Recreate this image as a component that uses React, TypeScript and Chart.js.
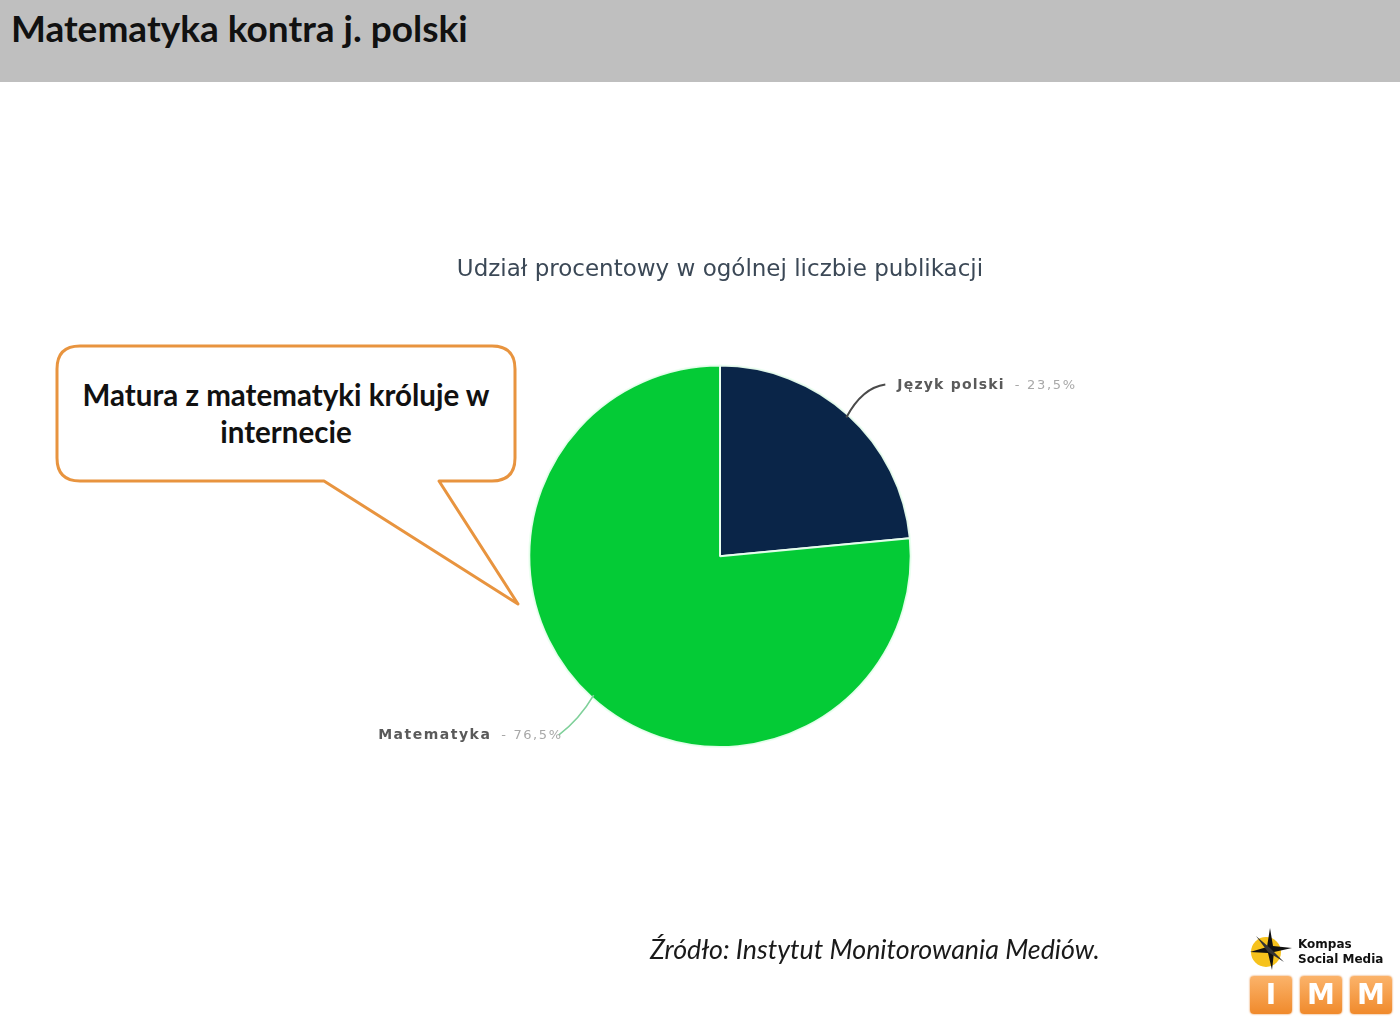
import React, { useEffect, useRef } from "react";
import { Chart, registerables } from "chart.js";

Chart.register(...registerables);

const pageTitle = "Matematyka kontra j. polski";
const chartTitle = "Udział procentowy w ogólnej liczbie publikacji";
const categories = ["Język polski", "Matematyka"];
const shares = [23.5, 76.5];
const shareLabels = ["23,5%", "76,5%"];
const sliceColors = ["#0a2548", "#04cb36"];
const leaderColors = ["#4a4a4a", "#7fd09a"];
const calloutLines = ["Matura z matematyki króluje w", "internecie"];
const sourceText = "Źródło: Instytut Monitorowania Mediów.";

const leaderPlugin = {
  id: "leaderLabels",
  afterDatasetsDraw(chart: any) {
    const ctx = chart.ctx;
    const meta = chart.getDatasetMeta(0);
    meta.data.forEach((arc: any, i: number) => {
      const p = arc.getProps(["x", "y", "startAngle", "endAngle", "outerRadius"], true);
      const mid = (p.startAngle + p.endAngle) / 2;
      const sx = p.x + Math.cos(mid) * (p.outerRadius - 3);
      const sy = p.y + Math.sin(mid) * (p.outerRadius - 3);
      const right = Math.cos(mid) >= 0;
      ctx.save();
      ctx.strokeStyle = leaderColors[i];
      ctx.lineWidth = right ? 2 : 1.6;
      ctx.beginPath();
      let ex: number, ey: number;
      if (right) {
        ex = sx + 39;
        ey = sy - 33;
        ctx.moveTo(sx, sy);
        ctx.quadraticCurveTo(sx + 16, sy - 30, ex, ey);
      } else {
        ex = sx - 35;
        ey = sy + 40;
        ctx.moveTo(sx, sy);
        ctx.quadraticCurveTo(sx - 14, sy + 24, ex, ey);
      }
      ctx.stroke();
      const nameFont = "bold 14px 'DejaVu Sans'";
      const valFont = "13px 'DejaVu Sans'";
      const valText = "- " + shareLabels[i];
      ctx.textBaseline = "middle";
      if (right) {
        const tx = ex + 12;
        const ty = ey + 1;
        ctx.font = nameFont;
        (ctx as any).letterSpacing = "1.2px";
        ctx.fillStyle = "#5a5a5a";
        ctx.textAlign = "left";
        ctx.fillText(categories[i], tx, ty);
        const w = ctx.measureText(categories[i]).width;
        ctx.font = valFont;
        (ctx as any).letterSpacing = "1.7px";
        ctx.fillStyle = "#a8a8a8";
        ctx.fillText(valText, tx + w + 10, ty);
      } else {
        const tx = ex + 4;
        const ty = ey;
        ctx.font = valFont;
        (ctx as any).letterSpacing = "1.6px";
        ctx.fillStyle = "#a8a8a8";
        ctx.textAlign = "right";
        ctx.fillText(valText, tx, ty);
        const w = ctx.measureText(valText).width;
        ctx.font = nameFont;
        (ctx as any).letterSpacing = "1.5px";
        ctx.fillStyle = "#5a5a5a";
        ctx.fillText(categories[i], tx - w - 10, ty);
      }
      ctx.restore();
    });
  },
};

function PieChart() {
  const ref = useRef<HTMLCanvasElement | null>(null);
  useEffect(() => {
    if (!ref.current) return;
    const chart = new Chart(ref.current, {
      type: "pie",
      data: {
        labels: categories,
        datasets: [
          {
            data: shares,
            backgroundColor: sliceColors,
            borderColor: "rgba(235,255,240,0.95)",
            borderWidth: 2,
          },
        ],
      },
      options: {
        responsive: false,
        animation: false,
        layout: { padding: { top: 256, bottom: 274, left: 400, right: 360 } },
        plugins: {
          legend: { display: false },
          tooltip: { enabled: false },
          title: {
            display: true,
            text: chartTitle,
            color: "#3b4856",
            font: { family: "DejaVu Sans", size: 23, weight: "normal" },
            padding: { top: 0, bottom: 81 },
          },
        },
      },
      plugins: [leaderPlugin],
    });
    return () => chart.destroy();
  }, []);
  return (
    <canvas
      ref={ref}
      width={1400}
      height={1022}
      style={{ position: "absolute", left: 0, top: 0, width: 1400, height: 1022 }}
    />
  );
}

function Callout() {
  const r = 23;
  const x0 = 57, y0 = 346, x1 = 515, y1 = 481;
  const d = `M ${x0 + r} ${y0} L ${x1 - r} ${y0} Q ${x1} ${y0} ${x1} ${y0 + r} L ${x1} ${y1 - r} Q ${x1} ${y1} ${x1 - r} ${y1} L 439 ${y1} L 518 604 L 324 ${y1} L ${x0 + r} ${y1} Q ${x0} ${y1} ${x0} ${y1 - r} L ${x0} ${y0 + r} Q ${x0} ${y0} ${x0 + r} ${y0} Z`;
  return (
    <>
      <svg width={1400} height={1022} style={{ position: "absolute", left: 0, top: 0 }}>
        <path d={d} fill="#ffffff" stroke="#e8943f" strokeWidth={3} strokeLinejoin="round" />
      </svg>
      <div
        style={{
          position: "absolute",
          left: x0,
          width: x1 - x0,
          top: 376,
          textAlign: "center",
          fontFamily: "Lato, 'Open Sans', sans-serif",
          fontWeight: 700,
          fontSize: 29.5,
          lineHeight: "37px",
          color: "#111",
          whiteSpace: "nowrap",
        }}
      >
        {calloutLines.map((l, i) => (
          <div key={i}>{l}</div>
        ))}
      </div>
    </>
  );
}

function Logo() {
  const boxes = ["I", "M", "M"];
  return (
    <div style={{ position: "absolute", left: 1246, top: 926, width: 150, height: 92 }}>
      <svg width={50} height={46} style={{ position: "absolute", left: 0, top: 0 }}>
        <circle cx={20} cy={26} r={15} fill="#f6c21c" />
        <path d="M24 2 L27 20 L46 22 L28 26 L26 44 L22 27 L4 26 L21 21 Z" fill="#111" />
        <path d="M10 10 L24 22 L38 36 L22 26 Z" fill="#333" />
      </svg>
      <div
        style={{
          position: "absolute",
          left: 52,
          top: 11,
          fontFamily: "'DejaVu Sans', sans-serif",
          fontWeight: 700,
          fontSize: 12,
          lineHeight: "15px",
          color: "#111",
          whiteSpace: "nowrap",
        }}
      >
        <div>Kompas</div>
        <div>Social Media</div>
      </div>
      {boxes.map((b, i) => (
        <div
          key={i}
          style={{
            position: "absolute",
            left: 4 + i * 50,
            top: 50,
            width: 42,
            height: 38,
            borderRadius: 4,
            background: "linear-gradient(#fbb36a, #f08a2c)",
            color: "#fff",
            fontFamily: "'DejaVu Sans', sans-serif",
            fontWeight: 700,
            fontSize: 28,
            lineHeight: "38px",
            textAlign: "center",
            boxShadow: "0 0 2px #e07a20",
          }}
        >
          {b}
        </div>
      ))}
    </div>
  );
}

export default function App() {
  return (
    <div
      style={{
        position: "absolute",
        left: 0,
        top: 0,
        width: 1400,
        height: 1022,
        background: "#ffffff",
        overflow: "hidden",
      }}
    >
      <div
        style={{
          position: "absolute",
          left: 0,
          top: 0,
          width: 1400,
          height: 82,
          background: "#bfbfbf",
        }}
      />
      <div
        style={{
          position: "absolute",
          left: 11,
          top: 6,
          fontFamily: "Lato, 'Open Sans', sans-serif",
          fontWeight: 700,
          fontSize: 37,
          lineHeight: "44px",
          color: "#111",
          whiteSpace: "nowrap",
        }}
      >
        {pageTitle}
      </div>
      <Callout />
      <PieChart />
      <div
        style={{
          position: "absolute",
          left: 650,
          top: 933,
          fontFamily: "Lato, 'Open Sans', sans-serif",
          fontStyle: "italic",
          fontSize: 26.8,
          lineHeight: "32px",
          color: "#1a1a1a",
          whiteSpace: "nowrap",
        }}
      >
        {sourceText}
      </div>
      <Logo />
    </div>
  );
}
